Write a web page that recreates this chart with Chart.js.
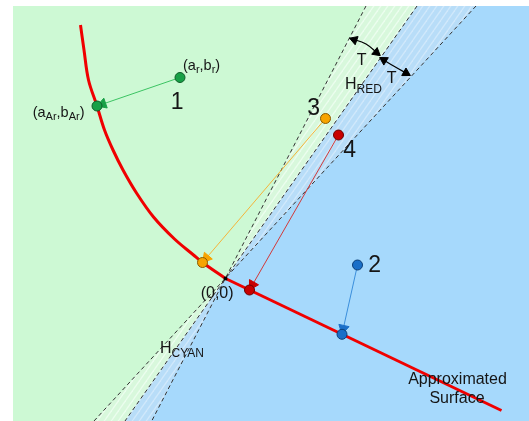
<!DOCTYPE html>
<html>
<head>
<meta charset="utf-8">
<script src="https://cdn.jsdelivr.net/npm/chart.js@4"></script>
<style>
  body { margin: 0; background: #fff; overflow: hidden; }
  canvas { display: block; }
</style>
</head>
<body>
<canvas id="diagram" width="529" height="421"></canvas>
<script>
// the red curve (left part) and the straight approximated surface, origin at (0,0)
const curveX = [-145, -141.5, -137, -128.5, -121, -112.5, -102.5, -89, -72, -51, -32, -23, 0];
const curveY = [253.5, 228.5, 198.5, 172.5, 148.5, 128.5, 108.5, 85.5, 61.5, 39.5, 23.5, 16, 0];
const surfaceX = [0, 276];
const surfaceY = [0, -132];

// the four sample points and where they land on the surface
const pointNames = ['1', '2', '3', '4'];
const sourceX = [-45.5, 132, 100, 113];
const sourceY = [201, 13.5, 160, 143.5];
const targetX = [-128.5, 116.5, -23, 24];
const targetY = [172.5, -55.8, 16, -11.5];

// dashed lines through the origin: steep (L), boundary (M), shallow (R)
const lineTopX = [140.5, 191.5, 250.5];
const lineBottomX = [-73.8, -100.5, -131.5];
const frameX = [-212.5, 303.5];
const frameY = [-142.5, 272.5];

// the two "T" arcs
const arc1X = [125, 140.5, 154];
const arc1Y = [240, 234.5, 223.5];
const arc2X = [155, 169, 184];
const arc2Y = [220.5, 212, 203.5];

const FONT = '"Liberation Sans", Arial, sans-serif';
const pointFill = ['#17a046', '#1a6fc8', '#f7a400', '#c80000'];
const pointEdge = ['#0d5e28', '#0c3f78', '#8a5a00', '#6a0000'];
const arrowColor = ['#3cc463', '#3b8fdc', '#f5b43a', '#d23a3a'];

const textLabels = [
  { x: -42.5, y: 208.5, size: 14.5, parts: [['(a', 0], ['r', 1], [',b', 0], ['r', 1], [')', 0]] },
  { x: -192.8, y: 161.5, size: 14.5, parts: [['(a', 0], ['Ar', 1], [',b', 0], ['Ar', 1], [')', 0]] },
  { x: -54.8, y: 169.2, size: 23, parts: [[pointNames[0], 0]] },
  { x: 142.8, y: 6.2, size: 23, parts: [[pointNames[1], 0]] },
  { x: 81.8, y: 163.5, size: 23, parts: [[pointNames[2], 0]] },
  { x: 117.8, y: 121.8, size: 23, parts: [[pointNames[3], 0]] },
  { x: 136.2, y: 213.5, size: 16, align: 'center', parts: [['T', 0]] },
  { x: 166.2, y: 195.8, size: 16, align: 'center', parts: [['T', 0]] },
  { x: 119.5, y: 189.2, size: 16, parts: [['H', 0], ['RED', 1]] },
  { x: -65.5, y: -74.8, size: 16, parts: [['H', 0], ['CYAN', 1]] },
  { x: -24.8, y: -19.5, size: 16, parts: [['(0,0)', 0]] },
  { x: 232, y: -105.5, size: 16, align: 'center', parts: [['Approximated', 0]] },
  { x: 231.5, y: -124.5, size: 16, align: 'center', parts: [['Surface', 0]] }
];

function pts(xs, ys) {
  return xs.map((x, i) => ({ x: x, y: ys[i] }));
}

function hatch(base, stripe) {
  const t = document.createElement('canvas');
  t.width = 7; t.height = 10;
  const c = t.getContext('2d');
  c.fillStyle = base;
  c.fillRect(0, 0, 7, 10);
  c.strokeStyle = stripe;
  c.lineWidth = 1.3;
  [-7, 0, 7].forEach(o => {
    c.beginPath();
    c.moveTo(o, 10);
    c.lineTo(o + 7, 0);
    c.stroke();
  });
  return c.createPattern(t, 'repeat');
}

// arrowhead: triangle set back from the tip, rotated along the last segment
function arrowHead(fromX, fromY, tipX, tipY, back) {
  const dx = tipX - fromX, dy = tipY - fromY;
  const len = Math.hypot(dx, dy);
  return {
    point: { x: tipX - dx / len * back, y: tipY - dy / len * back },
    rotation: Math.atan2(dx, dy) * 180 / Math.PI
  };
}

const O = { x: 0, y: 0 };
const lineTop = i => ({ x: lineTopX[i], y: frameY[1] });
const lineBot = i => ({ x: lineBottomX[i], y: frameY[0] });

const datasets = [];

// background frame (green), blue half and the two hatched bands
datasets.push({
  data: [{ x: frameX[0], y: frameY[1] }, { x: frameX[1], y: frameY[1] }, { x: frameX[1], y: frameY[0] }, { x: frameX[0], y: frameY[0] }],
  backgroundColor: '#cdf9d4', fill: 'shape', order: 100
});
datasets.push({
  data: [lineTop(1), { x: frameX[1], y: frameY[1] }, { x: frameX[1], y: frameY[0] }, lineBot(1)],
  backgroundColor: '#a6d9fc', fill: 'shape', order: 99
});
datasets.push({
  data: [O, lineTop(0), lineTop(1), O, lineBot(2), lineBot(1)],
  backgroundColor: hatch('#d8f8dc', '#ebfdee'), fill: 'shape', order: 98
});
datasets.push({
  data: [O, lineTop(1), lineTop(2), O, lineBot(1), lineBot(0)],
  backgroundColor: hatch('#b8ddf8', '#d0e8fb'), fill: 'shape', order: 97
});

// dashed lines
for (let i = 0; i < 3; i++) {
  datasets.push({
    data: [lineTop(i), lineBot(i)],
    borderColor: '#333', borderWidth: 1, borderDash: [4, 3], order: 50
  });
}

// red curve and surface line
datasets.push({
  data: pts(curveX, curveY), borderColor: '#f00000', borderWidth: 3,
  tension: 0.35, order: 40
});
datasets.push({
  data: pts(surfaceX, surfaceY), borderColor: '#f00000', borderWidth: 3, order: 40
});

// projection arrows
for (let i = 0; i < pointNames.length; i++) {
  datasets.push({
    data: [{ x: sourceX[i], y: sourceY[i] }, { x: targetX[i], y: targetY[i] }],
    borderColor: arrowColor[i], borderWidth: 1, order: 30
  });
  const h = arrowHead(sourceX[i], sourceY[i], targetX[i], targetY[i], 6);
  datasets.push({
    data: [h.point], showLine: false, pointStyle: 'triangle', pointRadius: 6,
    pointRotation: h.rotation, backgroundColor: pointFill[i], borderColor: pointFill[i],
    borderWidth: 1, order: 20
  });
  datasets.push({
    data: [{ x: sourceX[i], y: sourceY[i] }, { x: targetX[i], y: targetY[i] }],
    showLine: false, pointRadius: 5, backgroundColor: pointFill[i],
    borderColor: pointEdge[i], borderWidth: 1, order: 10
  });
}

// T arcs with arrowheads on both ends
[[arc1X, arc1Y], [arc2X, arc2Y]].forEach(([ax, ay]) => {
  datasets.push({
    data: pts(ax, ay), borderColor: '#000', borderWidth: 1.2, tension: 0.4, order: 15
  });
  const a = arrowHead(ax[1], ay[1], ax[0], ay[0], 4);
  const b = arrowHead(ax[1], ay[1], ax[2], ay[2], 4);
  datasets.push({
    data: [a.point, b.point], showLine: false, pointStyle: 'triangle', pointRadius: 5,
    pointRotation: [a.rotation, b.rotation], backgroundColor: '#000', borderColor: '#000',
    borderWidth: 1, order: 14
  });
});

// the origin marker
datasets.push({
  data: [O], showLine: false, pointStyle: 'rect', pointRadius: 2.5,
  backgroundColor: '#000', borderColor: '#000', borderWidth: 0, order: 5
});

datasets.forEach(d => {
  if (d.showLine === undefined) d.showLine = true;
  if (d.pointRadius === undefined) d.pointRadius = 0;
  if (d.borderWidth === undefined) d.borderWidth = 0;
  if (d.fill === undefined) d.fill = false;
});

const textPlugin = {
  id: 'diagramText',
  afterDatasetsDraw(chart) {
    const ctx = chart.ctx;
    const xs = chart.scales.x, ys = chart.scales.y;
    ctx.save();
    ctx.fillStyle = '#151515';
    ctx.textBaseline = 'alphabetic';
    textLabels.forEach(lab => {
      const sub = Math.round(lab.size * 0.74);
      let w = 0;
      lab.parts.forEach(p => {
        ctx.font = (p[1] ? sub : lab.size) + 'px ' + FONT;
        w += ctx.measureText(p[0]).width;
      });
      let px = xs.getPixelForValue(lab.x);
      const py = ys.getPixelForValue(lab.y);
      if (lab.align === 'center') px -= w / 2;
      lab.parts.forEach(p => {
        ctx.font = (p[1] ? sub : lab.size) + 'px ' + FONT;
        ctx.fillText(p[0], px, py + (p[1] ? lab.size * 0.2 : 0));
        px += ctx.measureText(p[0]).width;
      });
    });
    ctx.restore();
  }
};

new Chart(document.getElementById('diagram'), {
  type: 'scatter',
  data: { datasets: datasets },
  options: {
    responsive: false,
    animation: false,
    devicePixelRatio: 1,
    layout: { padding: 0, autoPadding: false },
    scales: {
      x: { type: 'linear', min: -225.5, max: 303.5, display: false },
      y: { type: 'linear', min: -142.5, max: 278.5, display: false }
    },
    plugins: {
      legend: { display: false },
      tooltip: { enabled: false }
    },
    events: []
  },
  plugins: [textPlugin]
});
</script>
</body>
</html>
